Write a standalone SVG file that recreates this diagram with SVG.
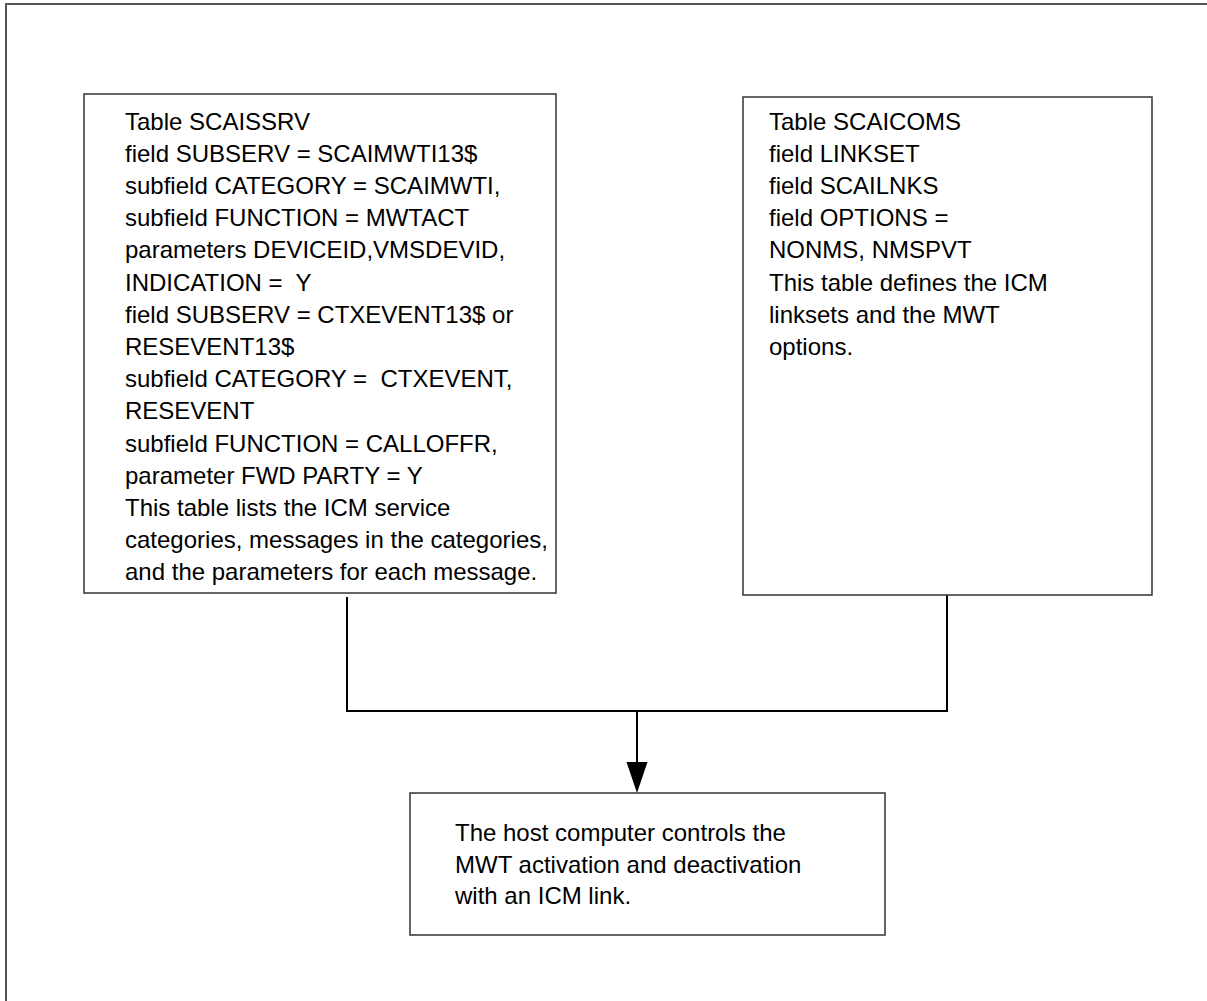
<svg xmlns="http://www.w3.org/2000/svg" width="1207" height="1001" viewBox="0 0 1207 1001">
<style>
.box{fill:#fff;stroke:#333;stroke-width:1.5}
.t{font-family:"Liberation Sans",Arial,sans-serif;font-size:24px;fill:#000;white-space:pre}
.c{fill:none;stroke:#000;stroke-width:2}
.frame{fill:none;stroke:#555;stroke-width:2}
</style>
<path class="frame" d="M6,1001 L6,4 L1207,4"/>
<g id="connectors">
<path class="c" d="M347,597 L347,711 L947,711 L947,595"/>
<line class="c" x1="637" y1="711" x2="637" y2="762"/>
<path d="M626.5,762 L647.5,762 L637,793 Z" fill="#000"/>
</g>
<g id="scaissrv">
<rect class="box" x="84" y="94" width="472" height="499"/>
<text class="t" x="125" y="129.5" xml:space="preserve"><tspan x="125" dy="0">Table SCAISSRV</tspan><tspan x="125" dy="32.2">field SUBSERV = SCAIMWTI13$</tspan><tspan x="125" dy="32.2">subfield CATEGORY = SCAIMWTI,</tspan><tspan x="125" dy="32.2">subfield FUNCTION = MWTACT</tspan><tspan x="125" dy="32.2">parameters DEVICEID,VMSDEVID,</tspan><tspan x="125" dy="32.2">INDICATION =  Y</tspan><tspan x="125" dy="32.2">field SUBSERV = CTXEVENT13$ or</tspan><tspan x="125" dy="32.2">RESEVENT13$</tspan><tspan x="125" dy="32.2">subfield CATEGORY =  CTXEVENT,</tspan><tspan x="125" dy="32.2">RESEVENT</tspan><tspan x="125" dy="32.2">subfield FUNCTION = CALLOFFR,</tspan><tspan x="125" dy="32.2">parameter FWD PARTY = Y</tspan><tspan x="125" dy="32.2">This table lists the ICM service</tspan><tspan x="125" dy="32.2">categories, messages in the categories,</tspan><tspan x="125" dy="32.2">and the parameters for each message.</tspan></text>
</g>
<g id="scaicoms">
<rect class="box" x="743" y="97" width="409" height="498"/>
<text class="t" x="769" y="129.5"><tspan x="769" dy="0">Table SCAICOMS</tspan><tspan x="769" dy="32.2">field LINKSET</tspan><tspan x="769" dy="32.2">field SCAILNKS</tspan><tspan x="769" dy="32.2">field OPTIONS =</tspan><tspan x="769" dy="32.2">NONMS, NMSPVT</tspan><tspan x="769" dy="32.2">This table defines the ICM</tspan><tspan x="769" dy="32.2">linksets and the MWT</tspan><tspan x="769" dy="32.2">options.</tspan></text>
</g>
<g id="host">
<rect class="box" x="410" y="793" width="475" height="142"/>
<text class="t" x="455" y="841"><tspan x="455" dy="0">The host computer controls the</tspan><tspan x="455" dy="31.5">MWT activation and deactivation</tspan><tspan x="455" dy="31.5">with an ICM link.</tspan></text>
</g>
</svg>
